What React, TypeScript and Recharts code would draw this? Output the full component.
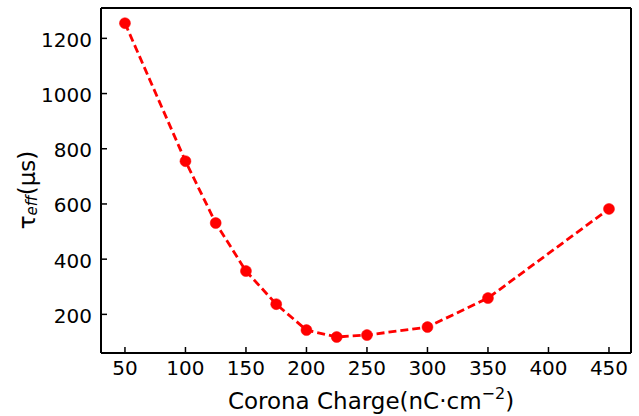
import React from "react";
import { LineChart, Line, XAxis, YAxis, ReferenceLine } from "recharts";

const charges = [50, 100, 125, 150, 175, 200, 225, 250, 300, 350, 450];
const tauEff = [1255, 755, 531, 357, 237, 143, 118, 125, 154, 259, 582];
const xTicks = [50, 100, 150, 200, 250, 300, 350, 400, 450];
const yTicks = [200, 400, 600, 800, 1000, 1200];
const xDomain = [30.2, 468.2];
const yDomain = [60, 1310];

const data = charges.map((c, i) => ({ charge: c, tau: tauEff[i] }));

const FONT = "'DejaVu Sans', sans-serif";

const XTick = (props: any) => {
  const { x, y, payload } = props;
  return (
    <g>
      <line x1={x} y1={y} x2={x} y2={y - 6} stroke="#000" strokeWidth={1.5} />
      <text x={x} y={y + 22} textAnchor="middle" fontSize={20} fontFamily={FONT} fill="#000">
        {payload.value}
      </text>
    </g>
  );
};

const YTick = (props: any) => {
  const { x, y, payload } = props;
  return (
    <g>
      <line x1={x} y1={y} x2={x + 6} y2={y} stroke="#000" strokeWidth={1.5} />
      <text x={x - 9} y={y + 8.5} textAnchor="end" fontSize={20} fontFamily={FONT} fill="#000">
        {payload.value}
      </text>
    </g>
  );
};

const XLabel = (props: any) => {
  const vb = props.viewBox || { x: 101, y: 353, width: 530, height: 63 };
  const cx = vb.x + vb.width / 2 + 5;
  return (
    <text x={cx} y={vb.y + 56} textAnchor="middle" fontSize={23} fontFamily={FONT} fill="#000">
      Corona Charge(nC·cm
      <tspan dy={-10} fontSize={16}>−2</tspan>
      <tspan dy={10}>)</tspan>
    </text>
  );
};

const YLabel = () => {
  const cx = 35;
  const cy = 190;
  return (
    <text
      x={cx}
      y={cy}
      textAnchor="middle"
      fontSize={23}
      fontFamily={FONT}
      fill="#000"
      transform={`rotate(-90, ${cx}, ${cy})`}
    >
      τ
      <tspan dy={2} fontSize={15} fontStyle="italic">eff</tspan>
      <tspan dy={-2}>(μs)</tspan>
    </text>
  );
};

export default function App() {
  return (
    <div style={{ position: "absolute", left: 0, top: 0, background: "#fff" }}>
      <LineChart
        width={639}
        height={416}
        data={data}
        margin={{ top: 8, right: 8, bottom: 0, left: 0 }}
      >
        <XAxis
          xAxisId="bottom"
          dataKey="charge"
          type="number"
          domain={xDomain}
          ticks={xTicks}
          interval={0}
          height={63}
          tickSize={0}
          tickMargin={0}
          tickLine={false}
          axisLine={{ stroke: "#000", strokeWidth: 2 }}
          tick={<XTick />}
          label={<XLabel />}
          allowDataOverflow
        />
        <YAxis
          yAxisId="left"
          type="number"
          domain={yDomain}
          ticks={yTicks}
          interval={0}
          width={101}
          tickSize={0}
          tickMargin={0}
          tickLine={false}
          axisLine={{ stroke: "#000", strokeWidth: 2 }}
          tick={<YTick />}
          label={<YLabel />}
          allowDataOverflow
        />
        <ReferenceLine
          xAxisId="bottom"
          yAxisId="left"
          x={xDomain[1]}
          stroke="#000"
          strokeWidth={2}
          ifOverflow="visible"
        />
        <ReferenceLine
          xAxisId="bottom"
          yAxisId="left"
          y={yDomain[1]}
          stroke="#000"
          strokeWidth={2}
          ifOverflow="visible"
        />
        <Line
          xAxisId="bottom"
          yAxisId="left"
          dataKey="tau"
          type="linear"
          stroke="#ff0000"
          strokeWidth={2.8}
          strokeDasharray="8 4"
          dot={{ r: 5.5, fill: "#ff0000", stroke: "#ff0000", strokeWidth: 0.5, strokeDasharray: "" }}
          activeDot={false}
          isAnimationActive={false}
        />
      </LineChart>
    </div>
  );
}
